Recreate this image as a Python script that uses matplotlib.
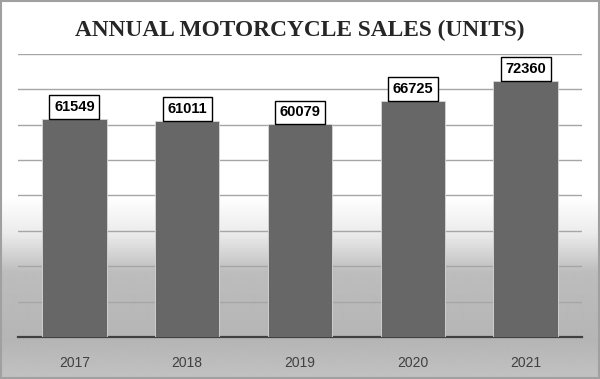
import numpy as np
import matplotlib
matplotlib.use('Agg')
import matplotlib.pyplot as plt

years = ['2017', '2018', '2019', '2020', '2021']
sales = [61549, 61011, 60079, 66725, 72360]

fig = plt.figure(figsize=(6, 3.79), dpi=100)

# background gradient: white top, gray lower part (row 0 = top of figure)
bg = fig.add_axes([0, 0, 1, 1], zorder=-10)
rows = np.linspace(0, 1, 379)
shade = np.interp(rows, [0, 0.52, 0.62, 0.72, 0.9, 1.0], [1.0, 1.0, 0.92, 0.74, 0.71, 0.76])
bg.imshow(shade[:, None] * np.ones((1, 10)), cmap='gray', vmin=0, vmax=1,
          aspect='auto', extent=[0, 1, 0, 1], interpolation='bilinear')
bg.axis('off')
# outer frame
fig.patches.append(plt.Rectangle((0.001, 0.002), 0.997, 0.995, transform=fig.transFigure,
                                 fill=False, edgecolor='#a0a0a0', linewidth=1.5))

ax = fig.add_axes([0.03, 0.111, 0.94, 0.747])
ax.patch.set_alpha(0)
x = np.arange(len(years))
bars = ax.bar(x, sales, width=0.57, color='#676767', edgecolor='#d8d8d8', linewidth=0.6, zorder=3)
ax.set_xlim(-0.5, len(years) - 0.5)
ax.set_ylim(0, 80000)
ax.set_yticks(np.arange(0, 80001, 10000))
ax.yaxis.grid(True, color='#a6a6a6', linewidth=1.0, zorder=0)
ax.set_axisbelow(True)
ax.tick_params(axis='y', left=False, labelleft=False)
ax.tick_params(axis='x', bottom=False, labelsize=10, labelcolor='#404040', pad=10)
ax.set_xticks(x)
ax.set_xticklabels(years, family='Liberation Sans')
for s in ['top', 'left', 'right']:
    ax.spines[s].set_visible(False)
ax.spines['bottom'].set_color('#404040')
ax.spines['bottom'].set_linewidth(1.6)

for xi, v in zip(x, sales):
    ax.text(xi, v + 1400, str(v), ha='center', va='bottom', fontsize=10.5, fontweight='bold',
            color='black', zorder=5, family='Liberation Sans',
            bbox=dict(boxstyle='square,pad=0.32', facecolor='white', edgecolor='black', linewidth=1))

fig.text(0.5, 0.92, 'ANNUAL MOTORCYCLE SALES (UNITS)', ha='center', va='center',
         fontsize=16.8, fontweight='bold', family='Liberation Serif', color='#262626')

fig.savefig('out.png', dpi=100)
